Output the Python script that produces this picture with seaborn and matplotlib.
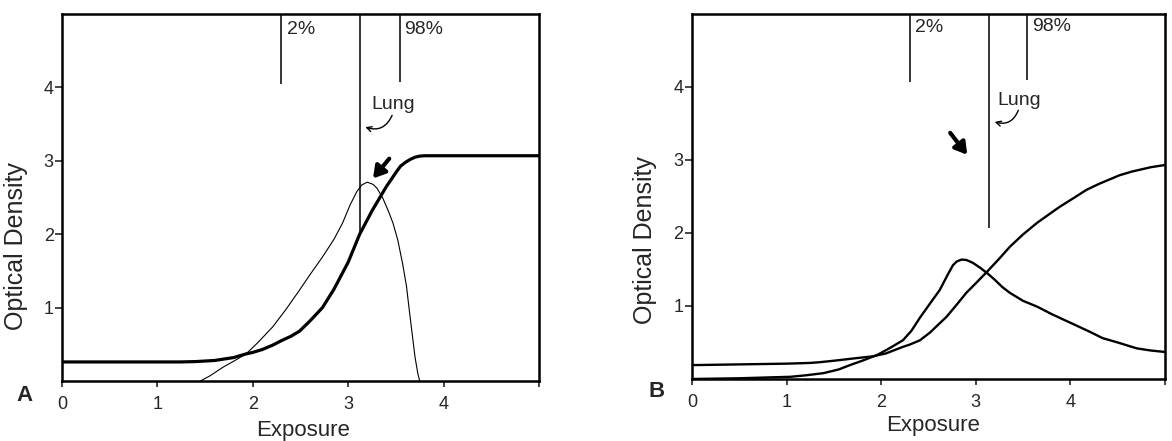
# ============================================================= #
#
# Film characteristic curves vs exposure histograms (A and B)
#
# ============================================================= #
#
import numpy as np
import pandas as pd
import matplotlib
matplotlib.use('Agg')
import matplotlib.pyplot as plt
import seaborn as sns
#
# ============================================================= #
#
# Data
#
# Panel A: thick characteristic curve, thin histogram
a_char_x = [0.0, 0.5, 1.0, 1.24, 1.4, 1.6, 1.8, 1.93, 2.0, 2.1, 2.21, 2.3, 2.4, 2.49,
            2.6, 2.73, 2.85, 3.0, 3.12, 3.25, 3.4, 3.51, 3.55, 3.6, 3.65, 3.7, 3.75,
            3.8, 4.0, 4.5, 5.0]
a_char_y = [0.26, 0.26, 0.26, 0.26, 0.265, 0.28, 0.32, 0.37, 0.39, 0.43, 0.49, 0.55,
            0.61, 0.68, 0.82, 1.0, 1.25, 1.62, 2.0, 2.32, 2.65, 2.86, 2.93, 2.98, 3.02,
            3.05, 3.065, 3.07, 3.07, 3.07, 3.07]
a_hist_x = [1.45, 1.55, 1.69, 1.8, 1.93, 2.05, 2.21, 2.35, 2.49, 2.6, 2.73, 2.85, 2.94,
            3.02, 3.09, 3.14, 3.2, 3.26, 3.3, 3.36, 3.42, 3.47, 3.52, 3.57, 3.61, 3.64,
            3.67, 3.7, 3.73, 3.75]
a_hist_y = [0.0, 0.07, 0.19, 0.27, 0.37, 0.52, 0.74, 0.98, 1.24, 1.45, 1.69, 1.93, 2.15,
            2.4, 2.58, 2.67, 2.71, 2.68, 2.63, 2.5, 2.32, 2.15, 1.92, 1.6, 1.3, 0.97,
            0.65, 0.33, 0.1, 0.0]
#
# Panel B: both curves drawn medium weight
b_char_x = [0.0, 0.5, 1.0, 1.25, 1.35, 1.5, 1.7, 1.91, 2.05, 2.15, 2.23, 2.3, 2.41,
            2.52, 2.6, 2.69, 2.8, 2.9, 3.0, 3.12, 3.25, 3.36, 3.5, 3.65, 3.78, 3.89,
            4.05, 4.17, 4.3, 4.52, 4.65, 4.75, 4.85, 5.0]
b_char_y = [0.19, 0.2, 0.21, 0.22, 0.23, 0.25, 0.28, 0.31, 0.35, 0.40, 0.44, 0.47,
            0.53, 0.64, 0.74, 0.85, 1.02, 1.18, 1.31, 1.47, 1.65, 1.81, 1.98, 2.14,
            2.26, 2.36, 2.49, 2.59, 2.67, 2.79, 2.84, 2.87, 2.9, 2.93]
b_hist_x = [0.0, 0.5, 1.04, 1.2, 1.39, 1.55, 1.67, 1.8, 1.96, 2.1, 2.23, 2.32, 2.41,
            2.52, 2.62, 2.7, 2.76, 2.8, 2.85, 2.9, 2.97, 3.05, 3.12, 3.2, 3.28, 3.36,
            3.5, 3.65, 3.8, 4.0, 4.2, 4.34, 4.5, 4.7, 4.85, 5.0]
b_hist_y = [0.0, 0.01, 0.03, 0.05, 0.08, 0.13, 0.19, 0.25, 0.33, 0.43, 0.53, 0.66,
            0.84, 1.04, 1.22, 1.42, 1.56, 1.61, 1.635, 1.63, 1.59, 1.52, 1.45, 1.36,
            1.26, 1.18, 1.07, 0.99, 0.89, 0.77, 0.65, 0.56, 0.5, 0.42, 0.39, 0.37]
#
# Vertical markers (2%, Lung, 98%): x position and lower end
a_mark_x = [2.30, 3.12, 3.54]
a_mark_ymin = [4.05, 2.03, 4.07]
b_mark_x = [2.30, 3.14, 3.54]
b_mark_ymin = [4.07, 2.07, 4.10]
mark_labels = ['2%', 'Lung', '98%']
#
xticks = [0, 1, 2, 3, 4, 5]
xticklabels = ['0', '1', '2', '3', '4', '']
yticks = [1, 2, 3, 4]
yticklabels = ['1', '2', '3', '4']
#
# ============================================================= #
#
# Style
#
sns.set_style('ticks')
plt.rcParams['font.family'] = ['Liberation Sans', 'DejaVu Sans']
plt.rcParams['axes.linewidth'] = 1.8

fig = plt.figure(figsize=(11.72, 4.41), dpi=100)
ax1 = fig.add_axes([0.0529, 0.136, 0.407, 0.832])
ax2 = fig.add_axes([0.5904, 0.1406, 0.4036, 0.828])

#
# Panel A curves
sns.lineplot(x=a_char_x, y=a_char_y, ax=ax1, color='black', lw=2.3, sort=False)
sns.lineplot(x=a_hist_x, y=a_hist_y, ax=ax1, color='black', lw=0.8, sort=False)
#
# Panel B curves
sns.lineplot(x=b_char_x, y=b_char_y, ax=ax2, color='black', lw=1.7, sort=False)
sns.lineplot(x=b_hist_x, y=b_hist_y, ax=ax2, color='black', lw=1.7, sort=False)

def decorate(ax, mark_x, mark_ymin, label_xy, lung_arrow, thick_arrow,
             letter, xlab_pos, ylab_pos):
    ax.vlines(mark_x, mark_ymin, 5, color='black', lw=1.1)
    for lab, (tx, ty) in zip(mark_labels, label_xy):
        ax.text(tx, ty, lab, fontsize=14, ha='left', va='center')
    # small curved arrow pointing at the Lung marker
    ax.annotate('', xy=lung_arrow[1], xytext=lung_arrow[0],
                arrowprops=dict(arrowstyle='->,head_length=0.35,head_width=0.18',
                                connectionstyle='arc3,rad=-0.45', lw=1.0,
                                color='black', shrinkA=0, shrinkB=0))
    # thick arrow pointing at the peak
    ax.annotate('', xy=thick_arrow[1], xytext=thick_arrow[0],
                arrowprops=dict(arrowstyle='-|>,head_length=0.5,head_width=0.3',
                                lw=3.0, color='black', shrinkA=0, shrinkB=0,
                                mutation_scale=14))
    ax.set_xlim(0, 5)
    ax.set_ylim(0, 5)
    ax.set_xticks(xticks)
    ax.set_xticklabels(xticklabels)
    ax.set_yticks(yticks)
    ax.set_yticklabels(yticklabels)
    ax.tick_params(axis='x', direction='out', length=4, width=1.2, labelsize=13, pad=7)
    ax.tick_params(axis='y', direction='out', length=5, width=1.2, labelsize=13, pad=1)
    ax.set_xlabel('Exposure', fontsize=16)
    ax.set_ylabel('Optical Density', fontsize=18)
    ax.xaxis.set_label_coords(*xlab_pos)
    ax.yaxis.set_label_coords(*ylab_pos)
    ax.text(letter[0], letter[1], letter[2], transform=ax.transAxes,
            fontsize=16, fontweight='bold', ha='center', va='center')
    for s in ax.spines.values():
        s.set_visible(True)
        s.set_color('black')
        s.set_linewidth(1.8)

decorate(ax1, a_mark_x, a_mark_ymin,
         [(2.36, 4.79), (3.24, 3.77), (3.59, 4.79)],
         [(3.46, 3.62), (3.18, 3.46)],
         [(3.43, 3.03), (3.26, 2.76)],
         (-0.078, -0.04, 'A'), (0.505, -0.105), (-0.071, 0.369))

decorate(ax2, b_mark_x, b_mark_ymin,
         [(2.36, 4.81), (3.23, 3.82), (3.60, 4.83)],
         [(3.45, 3.68), (3.20, 3.52)],
         [(2.73, 3.37), (2.91, 3.07)],
         (-0.074, -0.035, 'B'), (0.51, -0.098), (-0.074, 0.381))

plt.savefig('out.png', dpi=100)
plt.close()
#
# ============================================================= #
